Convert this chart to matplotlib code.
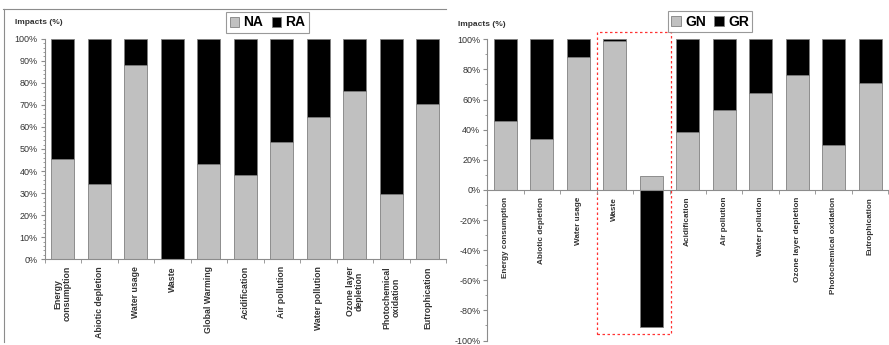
import matplotlib.pyplot as plt
import matplotlib.lines as mlines
import matplotlib.patches as mpatches
import numpy as np

plt.rcParams['font.family'] = ['Liberation Sans', 'DejaVu Sans']

# left chart (NA / RA)
cats_left = ["Energy\nconsumption", "Abiotic depletion", "Water usage", "Waste",
             "Global Warming", "Acidification", "Air pollution", "Water pollution",
             "Ozone layer\ndepletion", "Photochemical\noxidation", "Eutrophication"]
na = [45.5, 34, 88, 0, 43, 38, 53, 64.5, 76.5, 29.5, 70.5]
ra = [100 - v for v in na]

# right chart (GN / GR)
cats_right = ["Energy consumption", "Abiotic depletion", "Water usage", "Waste", "",
              "Acidification", "Air pollution", "Water pollution",
              "Ozone layer depletion", "Photochemical oxidation", "Eutrophication"]
gn = [45.5, 33.7, 88, 98.7, 9, 38.2, 53.3, 64.6, 76.4, 29.6, 70.7]
gr = [54.5, 66.3, 12, 1.3, -91, 61.8, 46.7, 35.4, 23.6, 70.4, 29.3]

W, H = 889, 345
fig = plt.figure(figsize=(W / 100, H / 100), dpi=100)

gray = '#C0C0C0'
edge = '#808080'
spine_c = '#8C8C8C'
txt_c = '#333333'

def fx(px):
    return px / W

def fy(py):
    return 1 - py / H

# outer frame of left chart
fig.add_artist(mlines.Line2D([fx(3), fx(446)], [fy(9), fy(9)], color=spine_c, lw=0.8))
fig.add_artist(mlines.Line2D([fx(4), fx(4)], [fy(9), fy(342)], color=spine_c, lw=0.8))

# ---------- left ----------
ax1 = fig.add_axes([fx(44.5), fy(259.3), fx(401.5), (259.3 - 38.7) / H])
x = np.arange(len(cats_left))
ax1.bar(x, na, width=0.63, color=gray, edgecolor=edge, linewidth=0.6, label='NA')
ax1.bar(x, ra, bottom=na, width=0.63, color='black', edgecolor=edge, linewidth=0.6, label='RA')
ax1.set_xlim(-0.5, 10.5)
ax1.set_ylim(0, 100)
ax1.set_yticks(range(0, 101, 10))
ax1.set_yticklabels([f"{v}%" for v in range(0, 101, 10)])
ax1.set_yticks(range(0, 101, 2), minor=True)
ax1.set_xticks(x)
ax1.set_xticklabels(cats_left, rotation=90, fontsize=6.3, fontweight='bold',
                    color=txt_c, va='top', ha='center', linespacing=1.0)
ax1.set_xticks(np.arange(-0.5, 11, 1), minor=True)
ax1.tick_params(axis='x', which='major', length=0, pad=5)
ax1.tick_params(axis='x', which='minor', length=3, color=spine_c, direction='out')
ax1.tick_params(axis='y', which='major', length=3, color=spine_c, labelsize=6.5, labelcolor=txt_c, pad=2)
ax1.tick_params(axis='y', which='minor', length=1.5, color=spine_c)
for s in ['top', 'right']:
    ax1.spines[s].set_visible(False)
for s in ['left', 'bottom']:
    ax1.spines[s].set_color(spine_c)
    ax1.spines[s].set_linewidth(0.8)
fig.text(fx(15), fy(23), "Impacts (%)", fontsize=6, fontweight='bold', color=txt_c, va='center')
leg1 = ax1.legend(loc='center', bbox_to_anchor=(fx(267.5), fy(22.5)), bbox_transform=fig.transFigure,
                  ncol=2, prop={'weight': 'bold', 'size': 10}, frameon=True, fancybox=False,
                  handlelength=0.7, handleheight=0.7, handletextpad=0.3, columnspacing=0.6,
                  borderpad=0.25, edgecolor=edge)
leg1.get_frame().set_linewidth(0.8)

# ---------- right ----------
ax2 = fig.add_axes([fx(487.3), fy(340.5), fx(401.5), (340.5 - 39.3) / H])
ax2.spines['bottom'].set_position(('data', 0))
x2 = np.arange(len(cats_right))
ax2.bar(x2, gn, width=0.63, color=gray, edgecolor=edge, linewidth=0.6, label='GN')
bottoms = [g if r > 0 else 0 for g, r in zip(gn, gr)]
ax2.bar(x2, gr, bottom=bottoms, width=0.63, color='black', edgecolor=edge, linewidth=0.6, label='GR')
ax2.set_xlim(-0.485, 10.515)
ax2.set_ylim(-100, 100)
ax2.set_yticks(range(-100, 101, 20))
ax2.set_yticklabels([f"{v}%" for v in range(-100, 101, 20)])
ax2.set_yticks(range(-100, 101, 10), minor=True)
ax2.set_xticks(x2)
ax2.set_xticklabels(cats_right, rotation=90, fontsize=5.9, fontweight='bold',
                    color=txt_c, va='top', ha='center')
ax2.set_xticks(np.arange(-0.5, 11, 1), minor=True)
ax2.tick_params(axis='x', which='major', length=0, pad=5)
ax2.tick_params(axis='x', which='minor', length=3, color=spine_c, direction='out')
ax2.tick_params(axis='y', which='major', length=3, color=spine_c, labelsize=6.5, labelcolor=txt_c, pad=2)
ax2.tick_params(axis='y', which='minor', length=1.5, color=spine_c)
for s in ['top', 'right']:
    ax2.spines[s].set_visible(False)
for s in ['left', 'bottom']:
    ax2.spines[s].set_color(spine_c)
    ax2.spines[s].set_linewidth(0.8)
fig.text(fx(458), fy(24), "Impacts (%)", fontsize=6, fontweight='bold', color=txt_c, va='center')
leg2 = ax2.legend(loc='center', bbox_to_anchor=(fx(710), fy(21.5)), bbox_transform=fig.transFigure,
                  ncol=2, prop={'weight': 'bold', 'size': 10}, frameon=True, fancybox=False,
                  handlelength=0.7, handleheight=0.7, handletextpad=0.3, columnspacing=0.6,
                  borderpad=0.25, edgecolor=edge)
leg2.get_frame().set_linewidth(0.8)

# red dashed box around Waste / second bar
rect = mpatches.Rectangle((2.52, -95.5), 2.03, 200.5, fill=False, edgecolor='#FF3333',
                          linestyle=(0, (2, 2)), linewidth=0.9, clip_on=False)
ax2.add_patch(rect)

fig.savefig('out.png', dpi=100)
